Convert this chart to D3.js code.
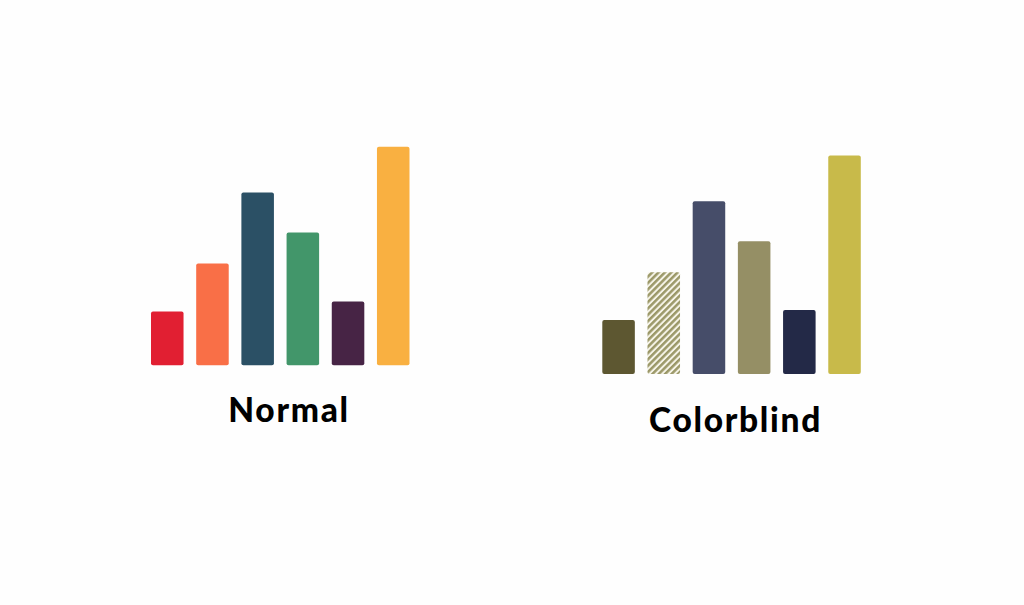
<!DOCTYPE html>
<html>
<head>
<meta charset="utf-8">
<script src="https://cdn.jsdelivr.net/npm/d3@7"></script>
<style>
  html, body { margin: 0; padding: 0; background: #fefefe; }
  svg { display: block; }
</style>
</head>
<body>
<svg id="chart"></svg>
<script>
const categories = ["A", "B", "C", "D", "E", "F"];
const values = [54, 102, 173, 133, 64, 219];
const normalColors = ["#e11f32", "#f96f47", "#2b5065", "#42966a", "#472445", "#f9b041"];
const colorblindColors = ["#5d5731", "url(#hatch)", "#464d69", "#958f65", "#232947", "#c8ba4a"];
const titles = ["Normal", "Colorblind"];

const width = 1024, height = 605;
const svg = d3.select("#chart").attr("width", width).attr("height", height);

const defs = svg.append("defs");
const hatch = defs.append("pattern")
  .attr("id", "hatch")
  .attr("patternUnits", "userSpaceOnUse")
  .attr("width", 4.5)
  .attr("height", 4.5)
  .attr("patternTransform", "rotate(45)");
hatch.append("rect").attr("width", 4.5).attr("height", 4.5).attr("fill", "#f6f4e8");
hatch.append("rect").attr("width", 2.5).attr("height", 4.5).attr("fill", "#9b9868");

const panels = [
  { left: 151, right: 409.5, bottom: 365.3, colors: normalColors, title: titles[0], tx: 289, ty: 422 },
  { left: 602.3, right: 860.8, bottom: 374, colors: colorblindColors, title: titles[1], tx: 735.5, ty: 431.7 }
];

panels.forEach(p => {
  const x = d3.scaleBand()
    .domain(categories)
    .range([p.left, p.right])
    .paddingInner(0.28)
    .paddingOuter(0);
  const y = d3.scaleLinear()
    .domain([0, d3.max(values)])
    .range([p.bottom, p.bottom - 218.6]);

  const g = svg.append("g");
  g.selectAll("rect")
    .data(values)
    .enter()
    .append("rect")
    .attr("x", (d, i) => x(categories[i]))
    .attr("y", d => y(d))
    .attr("width", x.bandwidth())
    .attr("height", d => y(0) - y(d))
    .attr("rx", 2)
    .attr("ry", 2)
    .attr("fill", (d, i) => p.colors[i]);

  svg.append("text")
    .attr("x", p.tx)
    .attr("y", p.ty)
    .attr("text-anchor", "middle")
    .attr("font-family", "Lato, sans-serif")
    .attr("font-weight", 900)
    .attr("font-size", "33.5px")
    .attr("letter-spacing", "1.7px")
    .attr("fill", "#000")
    .text(p.title);
});
</script>
</body>
</html>
